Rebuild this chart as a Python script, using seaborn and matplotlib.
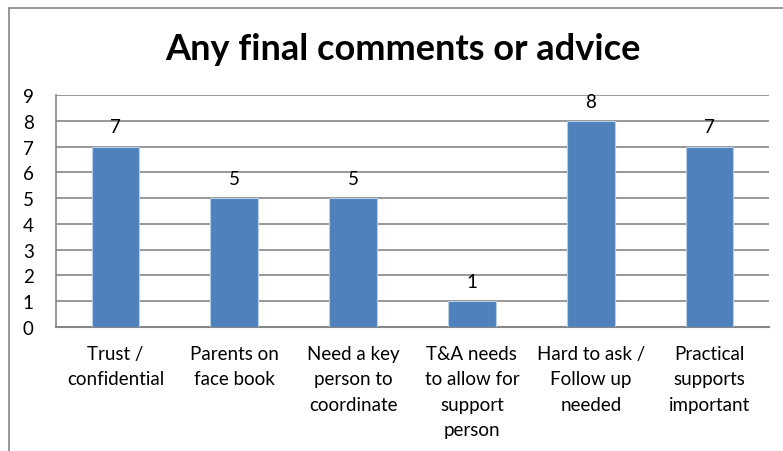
import matplotlib
matplotlib.use("Agg")
import matplotlib.pyplot as plt
from matplotlib.lines import Line2D
import seaborn as sns
import pandas as pd

categories = [
    "Trust /\nconfidential",
    "Parents on\nface book",
    "Need a key\nperson to\ncoordinate",
    "T&A needs\nto allow for\nsupport\nperson",
    "Hard to ask /\nFollow up\nneeded",
    "Practical\nsupports\nimportant",
]
counts = [7, 5, 5, 1, 8, 7]
yticks = list(range(0, 10))

df = pd.DataFrame({"category": categories, "count": counts})

sns.set_theme(style="white")
plt.rcParams["font.family"] = ["Lato", "DejaVu Sans"]

fig = plt.figure(figsize=(7.83, 4.52), dpi=100)
W, H = 783, 452
ax = fig.add_axes([56 / W, 1 - 328 / H, (769 - 56) / W, (328 - 96) / H])

sns.barplot(data=df, x="category", y="count", color="#4F81BD", width=0.4,
            saturation=1, edgecolor="#B9CDE5", linewidth=0.8, ax=ax, zorder=3)

ax.set_ylim(0, 9)
ax.set_yticks(yticks)
ax.set_xlim(-0.5, len(categories) - 0.5)
ax.yaxis.grid(True, color="#868686", linewidth=1.2, zorder=0)
ax.set_axisbelow(True)
for side in ["top", "right"]:
    ax.spines[side].set_visible(False)
ax.spines["left"].set_color("#868686")
ax.spines["bottom"].set_color("#868686")
ax.spines["left"].set_linewidth(1.2)
ax.spines["bottom"].set_linewidth(1.5)
ax.set_xlabel("")
ax.set_ylabel("")
ax.tick_params(axis="y", labelsize=13.5, pad=16, length=0, colors="black")
ax.tick_params(axis="x", labelsize=13.5, pad=13, length=0, colors="black")
for lbl in ax.get_xticklabels():
    lbl.set_linespacing(1.6)

for container in ax.containers:
    ax.bar_label(container, labels=[str(v) for v in counts], padding=8,
                 fontsize=13.5, color="black")

fig.text(0.514, 1 - 50 / H, "Any final comments or advice", ha="center",
         va="center", fontsize=26, fontweight="bold", color="black")

# outer chart frame (left and top edges)
fig.add_artist(Line2D([8.5 / W, 8.5 / W], [0, 1 - 9 / H], transform=fig.transFigure,
                      color="#868686", linewidth=1.2))
fig.add_artist(Line2D([8.5 / W, 1], [1 - 9 / H, 1 - 9 / H], transform=fig.transFigure,
                      color="#868686", linewidth=1.2))

fig.savefig("out.png", dpi=100)
